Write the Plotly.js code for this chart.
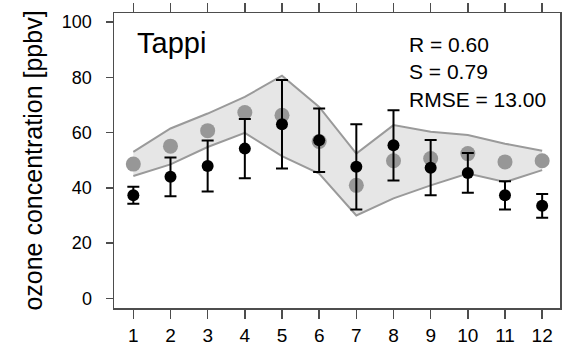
<!DOCTYPE html>
<html>
<head>
<meta charset="utf-8">
<script src="https://cdn.plot.ly/plotly-3.0.1.min.js"></script>
<style>html,body{margin:0;padding:0;background:#fff;}#chart{width:562px;height:345px;}</style>
</head>
<body>
<div id="chart"></div>
<script>
// Month index
const months = [1, 2, 3, 4, 5, 6, 7, 8, 9, 10, 11, 12];
// Observed ozone (black points) and their standard deviations
const observed = [37.3, 44.0, 47.9, 54.2, 63.0, 57.2, 47.6, 55.4, 47.3, 45.4, 37.3, 33.5];
const observedSd = [3.1, 7.0, 9.2, 10.7, 16.0, 11.5, 15.4, 12.7, 10.0, 7.2, 5.1, 4.3];
// Model ozone (grey points) and its spread band
const model = [48.6, 55.1, 60.7, 67.3, 66.3, 56.8, 40.9, 49.8, 50.6, 52.4, 49.4, 49.8];
const modelUpper = [53.0, 61.5, 66.9, 72.9, 80.6, 69.3, 52.4, 62.7, 60.3, 59.1, 56.0, 53.4];
const modelLower = [44.3, 48.5, 54.8, 59.9, 51.5, 45.2, 30.0, 36.2, 40.9, 45.2, 42.1, 46.4];
const xTicks = [1, 2, 3, 4, 5, 6, 7, 8, 9, 10, 11, 12];
const yTicks = [0, 20, 40, 60, 80, 100];
const siteName = 'Tappi';
const stats = ['R = 0.60', 'S = 0.79', 'RMSE = 13.00'];

const font = 'Liberation Sans, Arial, Helvetica, sans-serif';
const axisColor = '#4d4d4d';

const traces = [
  {x: months, y: modelLower, type: 'scatter', mode: 'lines',
   line: {color: '#9a9a9a', width: 2}, hoverinfo: 'skip', showlegend: false},
  {x: months, y: modelUpper, type: 'scatter', mode: 'lines', fill: 'tonexty',
   fillcolor: '#e6e6e6', line: {color: '#9a9a9a', width: 2}, hoverinfo: 'skip', showlegend: false},
  {x: months, y: model, type: 'scatter', mode: 'markers',
   marker: {color: '#979797', size: 15}, showlegend: false},
  {x: months, y: observed, type: 'scatter', mode: 'markers',
   marker: {color: '#000000', size: 12},
   error_y: {type: 'data', array: observedSd, visible: true, color: '#000', thickness: 2, width: 6},
   showlegend: false}
];

const layout = {
  width: 562, height: 345,
  margin: {l: 114, r: 2, t: 13, b: 37},
  paper_bgcolor: '#fff', plot_bgcolor: '#fff',
  font: {family: font, color: '#000'},
  showlegend: false,
  xaxis: {
    range: [0.48, 12.48], tickvals: xTicks, ticktext: xTicks.map(String),
    showgrid: false, zeroline: false, showline: true, mirror: 'ticks',
    linecolor: axisColor, linewidth: 1.5, ticks: 'outside', ticklen: 9, tickwidth: 1.5,
    tickcolor: axisColor, tickfont: {size: 19, family: font, color: '#000'},
    ticklabelstandoff: 1
  },
  yaxis: {
    range: [-3.5, 103.3], tickvals: yTicks, ticktext: yTicks.map(String),
    showgrid: false, zeroline: false, showline: true, mirror: 'ticks',
    linecolor: axisColor, linewidth: 1.5, ticks: 'outside', ticklen: 7, tickwidth: 1.5,
    tickcolor: axisColor, tickfont: {size: 18, family: font, color: '#000'},
    ticklabelstandoff: 10,
    title: {text: 'ozone concentration [ppbv]', font: {size: 25, family: font, color: '#000'}, standoff: 12}
  },
  annotations: [
    {xref: 'paper', yref: 'paper', x: 0.048, y: 0.898, xanchor: 'left', yanchor: 'middle',
     text: siteName, showarrow: false, font: {size: 29, family: font, color: '#000'}},
    {xref: 'paper', yref: 'paper', x: 0.658, y: 0.938, xanchor: 'left', yanchor: 'top', align: 'left',
     text: stats.join('<br>'), showarrow: false, font: {size: 21, family: font, color: '#000'}}
  ]
};

Plotly.newPlot('chart', traces, layout, {displayModeBar: false, staticPlot: true});
</script>
</body>
</html>
